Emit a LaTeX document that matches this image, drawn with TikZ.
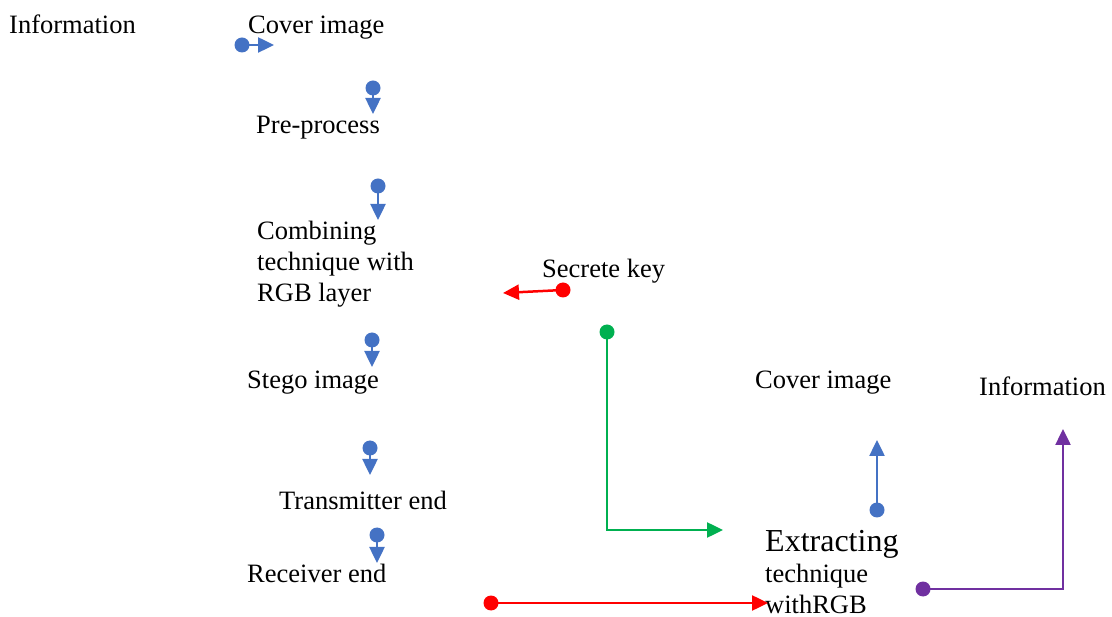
\documentclass[tikz,border=0pt]{standalone}
\usepackage{fontspec}
\setmainfont{Liberation Serif}
\usetikzlibrary{arrows.meta}
\definecolor{cblue}{RGB}{68,114,196}
\definecolor{cred}{RGB}{255,0,0}
\definecolor{cgreen}{RGB}{0,176,80}
\definecolor{cpurple}{RGB}{112,48,160}
\begin{document}
\begin{tikzpicture}[x=1pt,y=-1pt,
 lbl/.style={anchor=base west, inner sep=0pt, font=\fontsize{26.5}{31}\selectfont},
 big/.style={anchor=base west, inner sep=0pt, font=\fontsize{32}{36}\selectfont},
 dot/.style={circle, fill=#1, draw=none, inner sep=0pt, minimum size=15pt},
 conn/.style={draw=#1, line width=2.5pt, -{Triangle[length=16pt,width=15pt]}},
]
\useasboundingbox (0,0) rectangle (1112,617);
% texts
\node[lbl] (info1) at (9,34) {Information};
\node[lbl] (cover1) at (248,34) {Cover image};
\node[lbl] (pre) at (256,134) {Pre-process};
\node[lbl] (comb1) at (257,240) {Combining};
\node[lbl] (comb2) at (257,271) {technique with};
\node[lbl] (comb3) at (257,302) {RGB layer};
\node[lbl] (key) at (542,278) {Secrete key};
\node[lbl] (stego) at (247,389) {Stego image};
\node[lbl] (cover2) at (755,389) {Cover image};
\node[lbl] (info2) at (979,396) {Information};
\node[lbl] (trans) at (279,510) {Transmitter end};
\node[lbl] (recv) at (247,582) {Receiver end};
\node[big] (ext1) at (765,551) {Extracting};
\node[lbl] (ext2) at (765,583) {technique};
\node[lbl] (ext3) at (765,613) {withRGB};
% dots
\node[dot=cblue] (d1) at (242,45) {};
\node[dot=cblue] (d2) at (373,88) {};
\node[dot=cblue] (d3) at (378,186) {};
\node[dot=cred] (d4) at (563,290) {};
\node[dot=cgreen] (d5) at (607,332) {};
\node[dot=cblue] (d6) at (372,340) {};
\node[dot=cblue] (d7) at (370,448) {};
\node[dot=cblue] (d8) at (377,535) {};
\node[dot=cblue] (d9) at (877,510) {};
\node[dot=cred] (d10) at (491,603) {};
\node[dot=cpurple] (d11) at (923,589) {};
% arrow ends
\coordinate (t1) at (274,45);
\coordinate (t2) at (373,114);
\coordinate (t3) at (378,220);
\coordinate (t4) at (503,293);
\coordinate (c5) at (607,530);
\coordinate (t5) at (723,530);
\coordinate (t6) at (372,367);
\coordinate (t7) at (370,475);
\coordinate (t8) at (377,563);
\coordinate (t9) at (877,440);
\coordinate (t10) at (768,603);
\coordinate (c11) at (1063,589);
\coordinate (t11) at (1063,429);
% connectors
\draw[conn=cblue] (d1.center) -- (t1);
\draw[conn=cblue] (d2.center) -- (t2);
\draw[conn=cblue] (d3.center) -- (t3);
\draw[conn=cred] (d4.center) -- (t4);
\draw[conn=cgreen] (d5.center) -- (c5) -- (t5);
\draw[conn=cblue] (d6.center) -- (t6);
\draw[conn=cblue] (d7.center) -- (t7);
\draw[conn=cblue] (d8.center) -- (t8);
\draw[conn=cblue] (d9.center) -- (t9);
\draw[conn=cred] (d10.center) -- (t10);
\draw[conn=cpurple] (d11.center) -- (c11) -- (t11);
\end{tikzpicture}
\end{document}
